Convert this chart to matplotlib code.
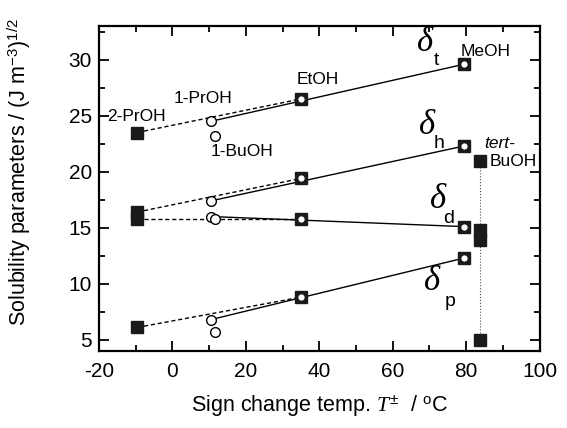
import matplotlib
matplotlib.use("Agg")

import matplotlib.pyplot as plt
import numpy as np

plt.rcParams["font.family"] = ["Liberation Sans", "DejaVu Sans"]
plt.rcParams["mathtext.fontset"] = "custom"
plt.rcParams["mathtext.rm"] = "Liberation Sans"
plt.rcParams["mathtext.it"] = "Liberation Serif:italic"
plt.rcParams["axes.unicode_minus"] = False

# sign change temperature T± (deg C) per alcohol
T_2pr = -9.6
T_1pr = 10.5
T_1bu = 11.5
T_et = 35.0
T_me = 79.5
T_tbu = 83.8

# solubility parameters (J m^-3)^1/2: [2-PrOH, 1-PrOH, EtOH, MeOH]
d_t = [23.5, 24.5, 26.5, 29.6]
d_h = [16.4, 17.4, 19.4, 22.3]
d_d = [15.8, 16.0, 15.8, 15.1]
d_p = [6.1, 6.8, 8.8, 12.3]

# 1-BuOH (open circles)
bu_vals = [23.2, 15.75, 5.65]
# tert-BuOH (filled squares)
tbu_vals = [21.0, 14.8, 13.9, 5.0]

# delta symbol positions (data coords): symbol, subscript
delta_labels = ["t", "h", "d", "p"]
delta_sym_xy = [(68.7, 31.5), (69.3, 24.1), (72.3, 17.5), (70.6, 10.2)]
delta_sub_xy = [(72.0, 29.9), (72.5, 22.5), (75.3, 15.8), (75.6, 8.4)]

fig = plt.figure(figsize=(5.67, 4.28), dpi=100)
ax = fig.add_axes([0.1746, 0.180, 0.777, 0.759])

for series in (d_t, d_h, d_d, d_p):
    # dashed: 2-PrOH -> EtOH, solid: 1-PrOH -> MeOH
    ax.plot([T_2pr, T_et], [series[0], series[2]], "k--", lw=1.0, dashes=(3, 2))
    ax.plot([T_1pr, T_me], [series[1], series[3]], "k-", lw=1.0)
    ax.plot([T_2pr], [series[0]], "s", ms=9, mfc="#1a1a1a", mec="#1a1a1a")
    ax.plot([T_1pr], [series[1]], "o", ms=7, mfc="white", mec="k", mew=1.0)
    ax.plot([T_et, T_me], [series[2], series[3]], "s", ms=9, mfc="#1a1a1a",
            mec="#1a1a1a", ls="none")
    ax.plot([T_et, T_me], [series[2], series[3]], "o", ms=4.5, mfc="white",
            mec="none", ls="none")

ax.plot([T_1bu] * len(bu_vals), bu_vals, "o", ms=7, mfc="white", mec="k",
        mew=1.0, ls="none")
ax.plot([T_tbu, T_tbu], [tbu_vals[0], tbu_vals[-1]], ":", color="#555555", lw=0.8)
ax.plot([T_tbu] * len(tbu_vals), tbu_vals, "s", ms=9, mfc="#1a1a1a",
        mec="#1a1a1a", ls="none")

# compound labels
lab = dict(fontsize=12.5, va="center", ha="left")
ax.text(-17.8, 24.9, "2-PrOH", **lab)
ax.text(0.4, 26.5, "1-PrOH", **lab)
ax.text(10.5, 21.8, "1-BuOH", **lab)
ax.text(33.7, 28.2, "EtOH", **lab)
ax.text(78.5, 30.7, "MeOH", **lab)
ax.text(85.0, 22.5, "tert-", style="italic", **lab)
ax.text(86.4, 20.9, "BuOH", **lab)

# delta labels
for sub, (sx, sy), (bx, by) in zip(delta_labels, delta_sym_xy, delta_sub_xy):
    ax.text(sx, sy, "\u03b4", family="Liberation Serif", style="italic",
            fontsize=25, ha="center", va="center")
    ax.text(bx, by, sub, fontsize=14, ha="center", va="center")

ax.set_xlim(-20, 100)
ax.set_ylim(4, 33)
ax.set_xticks(np.arange(-20, 101, 20))
ax.set_xticks(np.arange(-10, 100, 20), minor=True)
ax.set_yticks(np.arange(5, 31, 5))
ax.set_yticks(np.arange(7.5, 33, 5), minor=True)
ax.tick_params(which="both", direction="in", top=True, right=True, width=1.3)
ax.tick_params(which="major", length=7, labelsize=15)
ax.tick_params(axis="x", which="major", pad=8)
ax.tick_params(axis="y", which="major", pad=5)
ax.tick_params(which="minor", length=4)
for sp in ax.spines.values():
    sp.set_linewidth(1.6)

ax.set_xlabel(r"Sign change temp. $T^{\pm}$  / $^{\rm o}$C", fontsize=15.5, labelpad=9)
ax.set_ylabel(r"Solubility parameters / (J m$^{-3}$)$^{1/2}$", fontsize=15.5)
ax.yaxis.set_label_coords(-0.15, 0.55)

fig.savefig("out.png", dpi=100)
